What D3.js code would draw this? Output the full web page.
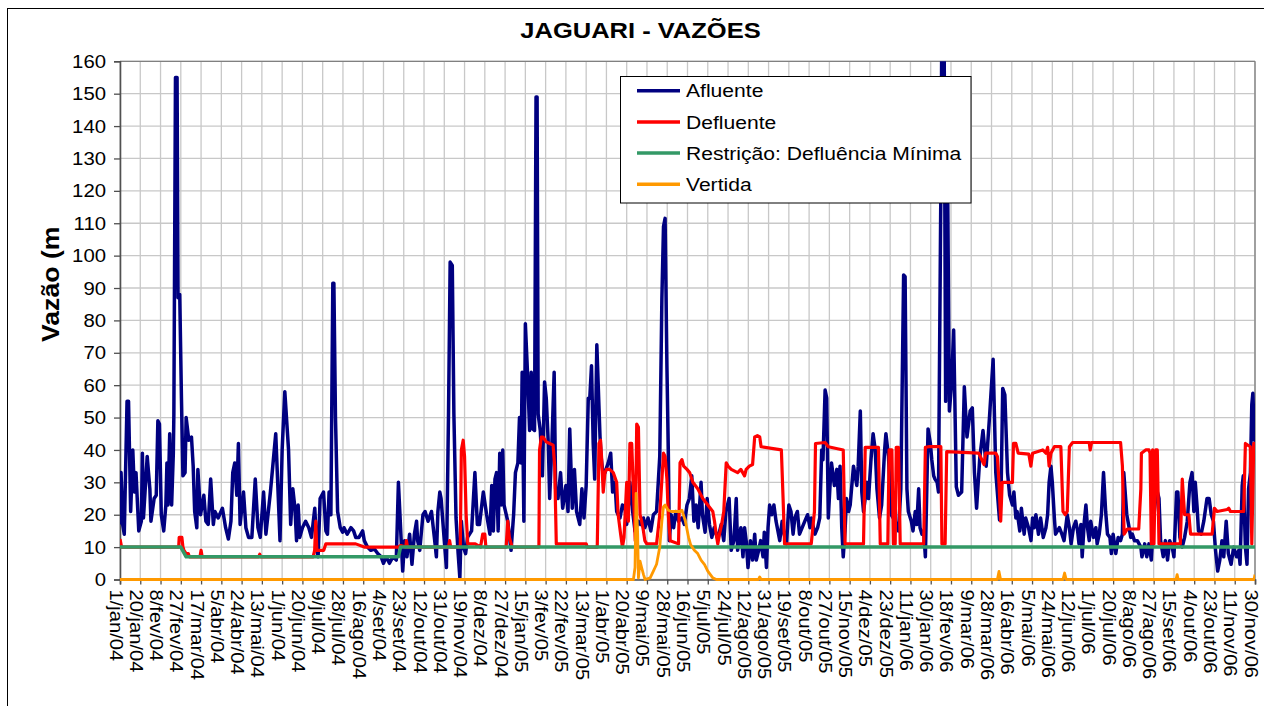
<!DOCTYPE html>
<html>
<head>
<meta charset="UTF-8">
<title>JAGUARI - VAZÕES</title>
<style>
  body { margin: 0; background: #ffffff; }
  svg { display: block; font-family: Arial, "Liberation Sans", sans-serif; }
</style>
</head>
<body>
<svg></svg>
<script src="https://d3js.org/d3.v7.min.js"></script>
<script>

// [dia contado a partir de 1/jan/04, vazão]
let afluente = [
  [0,17],[1,33],[2.5,17],[4,14],[6.6,55],[8,55],[10,21],[12,40],[13.5,27],[15,33],[17.6,15],[20,18],[21,39],[22,19],
  [25.5,38],[28,28],[29,18],[32,25],[34,26],[35.5,49],[37,48],[38.7,20],[41,15],[43,23],[44,36],[45,23],[46.6,45],
  [48.4,23],[50,39],[50.5,51],[52,155],[53.5,155],[54.4,87],[56,88],[57.6,56],[59,32],[61,33],[62,50],[64.5,43],
  [67,44],[68.6,35],[70,21],[72,16],[73,34],[75.5,20],[78.6,26],[80.5,18],[82.7,17],[85,31],[87.5,17],[89,21],[92,19],
  [96,22],[99,16],[101.6,12.5],[104,18],[105.7,33],[107.6,36],[109.5,26],[111,42],[112.6,17],[115.8,27],[118,16],
  [120.5,13],[123.6,13],[126.8,31],[129.3,16],[131.5,13],[134.6,27],[136.8,14],[141,27],[146,45],[150,12],[152,40],
  [154.5,58],[158,40],[160,17],[162,28],[164,22],[165.5,12],[167,23],[168.5,13],[171,16],[174,18],[177,16],[179.5,13],
  [182.6,22],[184.5,9],[185.7,7],[187.6,25],[190.8,27],[193,15],[194.5,14],[196,27],[197.7,20],[199.5,91.5],[200.5,91.5],
  [202,50],[204,21],[206.5,16],[208.7,14.6],[210,16],[213,14],[216.5,16],[219,15],[221,13],[224,13],[227.5,15],[229,12],
  [232,10],[235,9],[238.5,9.4],[241.6,8],[244.8,7],[247,5],[249.5,7],[252.6,5],[255.8,7],[259,6],[261,30],[263.6,12],
  [265,2.6],[266.8,12],[269,7],[271.5,14],[273.7,4.7],[276,14],[278,18],[279,12],[281,9],[284,20],[286,21],[288.8,18],
  [292,21],[295,12],[296.6,7],[298,21],[299.8,27],[301,25],[304,12],[306,3.7],[308,52],[309.5,98],[311.5,97],[313,51],
  [315,19],[317,8],[318.6,0.5],[320,18],[322,10],[324,8],[325.8,13],[329.6,15],[332.7,33],[335,17],[337,17],[340.6,27],
  [343.7,20],[346.8,14],[348.5,29],[350,15],[351.5,31],[353,33],[354.5,15],[356,39],[357.3,23],[358.8,40],[360,23],
  [363.5,18],[366.6,9],[369,20],[370.7,33],[373,36],[374.5,50],[376,36],[377,64],[378.6,18],[380,79],[382,64],[384,46],
  [385.5,64],[387,46.5],[388.6,46],[390,149],[391,149],[392,51],[394,46],[396,32],[398,61],[399.6,56],[401.5,42],
  [402.8,25],[405,43],[407,64],[408.4,28],[410.6,25],[413,33],[415,22],[418,29],[420,21],[421.6,46.5],[424,22],[426,34],
  [428,21],[431,17],[433,28],[435,19],[437,29],[439,56],[440.4,56],[442,66],[443.6,42],[445,31],[447,72.5],[450,44],
  [451,38],[453,32],[454.6,33],[457.7,36],[460,39],[461.8,27],[464,30],[465.6,21],[467,20],[468.7,19],[471,23],
  [473.4,22],[475,17],[476.6,23],[478,30],[480.6,21],[482.8,15],[486,18],[488,17],[490.7,19],[492,16],[495,19],
  [497.6,15],[500,20],[503,21],[506,38],[508,87],[509.5,109],[511,111.5],[512.7,66],[514,40],[515,12],[516.7,20],
  [519,16],[521,21],[523.6,18],[526.8,19],[529,17],[531.5,23],[533.7,25],[536,32],[538,18],[540,23],[542,16],
  [544.7,30],[546,20],[548.5,14.6],[550.4,25],[552.6,17],[554.8,13],[557,16],[560.4,12.5],[563.6,17],[566,12],[568,21],
  [571,25],[573,9],[575.5,12],[577.7,25],[579,9],[582,16],[584,7],[585.5,16],[587,12],[588.7,3.7],[591,12],[593,6],
  [595,14],[596.5,6],[598.7,9],[600.6,12],[602.8,7],[604,14.6],[606,3.7],[607.5,16],[609,23],[611,20],[613,23],[615,18],
  [618.5,12],[620.7,18],[622.6,14],[624.8,11],[627,23],[629,21],[631,14],[632.6,19],[635,21],[637,14],[639.5,16],
  [642,18],[644.6,20],[646.8,16],[648,19],[651.5,14],[654,16],[656,19],[657.8,40],[659,37],[661,58.5],[662.5,56],
  [664,19],[665.6,29],[667,36],[669.7,29],[672,34],[673.5,25],[675,35],[676.6,16],[678,7],[679.7,15],[681,25],[683,21],
  [684.5,23],[687.6,35],[690.7,29],[692,35],[694,52],[695.4,27],[697,21],[698.6,25],[700,30],[701.7,25],[704,37],
  [706,45],[708,40],[709.6,28],[712,19],[714,23],[716.8,40],[718,45],[720.4,38],[723,20],[726.7,18],[729.8,15],[732,28],
  [734.6,94],[736,93.5],[737.7,28],[739,21],[741.8,18],[743.4,15],[745.5,21],[747,17],[748.7,28],[750,16],[751.8,14],
  [753.4,15],[755,7],[757.5,46.5],[759.7,42],[761,37],[762.8,32],[764,31],[766,30],[767.3,27],[769.5,120],[770.5,175],
  [772.5,175],[774,55],[776,116],[777.5,52],[779.5,60],[781.5,77],[784,28.6],[786,26],[789,27],[791.5,59.5],[794,44],
  [797,52],[799,53],[801,33],[803,22],[806,37.6],[809,46],[812,35],[815,49.6],[818.5,68],[821,33],[824.5,18.4],[826,28],
  [827.5,59],[829.5,57],[832,33],[834,26],[836.6,23],[838,27],[839.8,19],[841,21],[843.5,15],[845,22],
  [847.6,14],[849,19],[851.7,16],[854,12],[855.5,19],[857,16],[858.6,20],[861,14],[863,19],[865.5,13],[868,16],
  [869.6,20],[871,30],[872.7,35],[874,30],[875.9,19],[877,14],[880.6,16],[883,14],[885,12],[886.9,17],[888,20],[890,16],
  [891.6,11],[893.8,16],[896,18],[897.7,15],[899,11],[900.8,17],[902,7],[904,18],[905.5,23],[907,16],[908.6,12],[910,18],
  [912.6,13],[914.8,16],[916,11],[918,14],[920,20],[922,33],[924,21],[925.7,14],[928,13],[929.4,8],[931,14],[933.5,8],
  [935.7,13],[938,12],[939.7,14],[941,33],[943.8,20],[946,16],[947.5,13],[949,14],[951,12],[953.7,12],[957,10],[958,7],
  [960.6,11],[962.5,7],[964.6,11],[966.8,6],[969,19],[971.8,28],[974,25],[975.5,12],[978,7],[980,12],[982,6],[984,12],
  [986.4,10],[988,7],[990.5,27],[991.7,27],[993.6,13],[995.8,10],[998,13],[1000.5,18],[1003,30],[1005,33],[1006.7,21],
  [1008,30],[1009.8,22],[1011,15],[1013.5,14],[1016,18],[1019,25],[1021,25],[1023,20],[1025,18],[1027,9],[1029,2.6],
  [1031,6],[1033,12],[1034.7,7],[1037,18],[1039,8],[1041.6,4.7],[1044,10],[1046.7,7],[1048.8,9],[1050,4.7],[1052,29],
  [1053,32],[1055,10],[1056.5,4.7],[1058,28],[1059.7,33],[1061,54],[1062,57.5],[1063.5,43],[1064,44]
];

let defluente = [
  [0,12.5],[1.5,10],[55,10],[55.5,13],[58,13],[59,10],[60,9],[62,8],[64,8],[65,7],[75,7],[76,9],[77,7],[130,7],
  [131,7.8],[132,7],[181,7],[182.5,9],[183.5,18],[184.5,9],[191,9],[193,11],[221,11],[229,10],[261,10],[263,10.5],
  [268,10],[268.5,12],[269.5,10],[308,10],[309,12],[310,10],[319,10],[320,40],[321.7,43],[323,38],[324.5,20],[326,11],
  [333,11],[338,10],[340,14],[342,14],[343,10],[362,10],[363.5,18],[365,13],[367.6,10],[392.7,10],[393.3,40],[395,44],
  [396.5,44],[399.6,42.5],[402.8,42],[406,41.5],[407.5,35],[409,11],[437,11],[438,10],[447.4,10],[449,42],[450.5,43],
  [451.4,38],[453,27],[454.6,33],[456,34],[459,34],[462.4,33],[465.6,30],[467,20],[469.3,14],[471,10],[472.5,13],
  [475,30],[476.6,18],[478,42],[479.7,42],[481,30],[483,12],[484.4,48],[486,47],[487.5,20],[489,18],[490.7,15],[492,12],
  [493.8,11],[497,11],[503,11],[506,20],[509.5,39],[511,38],[512.7,31],[514,20],[515.8,12],[523.6,11],[525,36],
  [526.8,37],[528.4,35],[531.5,34],[534,33],[537,30],[541.6,28],[546.3,25],[551,23],[555.7,21],[557.3,18],[558.9,14],
  [560.4,11],[562,14],[564,17],[566,21],[568.3,36],[570,35],[573,34],[579,33],[582,34],[585.5,32],[587,34],[590,35],
  [593,35.5],[595,44],[597.5,44.4],[599.7,44],[601,41],[620,40],[621.6,25],[623,11],[648,11],[651,21],[652,42],
  [661,42.3],[664,41],[678,40],[679.7,11],[697,11],[698.6,40.8],[711,40.8],[712.7,11],[719.8,11],[721,40],[723.6,40],
  [725,11],[726.7,11],[727.7,40.8],[729.8,40.8],[731.4,11],[753.4,11],[755,40.8],[758,41],[766,41],[769.5,41],
  [770.5,11],[773.5,11],[775,39.5],[805,39],[810,35.5],[811.5,39],[821,39],[822.5,38],[824,30],[825.6,18],[827,30],
  [836.6,30],[837.6,42],[839.8,42],[842,39],[852,38.7],[853.9,35],[855.5,39],[865,40],[868,39],[869.6,40.8],[871,35],
  [872.7,39],[875.9,41],[882,41],[884,21],[886,20],[888,21],[890,41],[893,42.3],[908.6,42.3],[909.5,40],[910.8,42.3],
  [938,42.3],[939.7,35],[941.3,14],[944.4,15.6],[955,15.6],[957,28],[957.5,39],[961.5,40],[964.6,40],[965.6,39],
  [966.8,11],[968,40],[969.3,11],[970.9,40],[972.4,40],[974,11],[994,11],[995.8,31],[998,20],[1002,20],[1003.6,14],
  [1023.8,14],[1026,22],[1028.5,21],[1038,21.6],[1039.4,22],[1041,21],[1053.4,21],[1055,42],[1059.6,41],[1061,11],
  [1062.8,42],[1064,42]
];

let restricao = [[0,10],[57,10],[62,7],[261,7],[263,10],[1064,10]];

let vertida = [
  [0,0],[481.3,0],[482.8,3.7],[483.8,26.6],[485.3,14],[486,0.5],[487.5,5.7],[489,3.7],[490.7,1.6],[492.2,0],[497,0.5],
  [500,2.6],[503,4.7],[506,10],[508,18],[509.5,22.5],[511,23],[512.7,22],[514,21.4],[517,21],[525,21],[526.8,21.4],
  [530,18],[533,13],[535,10.7],[538.4,9],[541.6,8],[544.7,6],[548,4.6],[551,2.6],[555.7,0.5],[559,0],[598.5,0],
  [599.7,0.8],[601,0],[822.5,0],[824,2.5],[825.5,0],[884,0],[885.5,2],[887,0],[990,0],[991,1.5],[992,0],[1063,0],
  [1064,1.5]
];

// um rótulo a cada 19 dias
let rotulosX = [
  "1/jan/04","20/jan/04","8/fev/04","27/fev/04","17/mar/04","5/abr/04","24/abr/04","13/mai/04","1/jun/04","20/jun/04",
  "9/jul/04","28/jul/04","16/ago/04","4/set/04","23/set/04","12/out/04","31/out/04","19/nov/04","8/dez/04","27/dez/04",
  "15/jan/05","3/fev/05","22/fev/05","13/mar/05","1/abr/05","20/abr/05","9/mai/05","28/mai/05","16/jun/05","5/jul/05",
  "24/jul/05","12/ago/05","31/ago/05","19/set/05","8/out/05","27/out/05","15/nov/05","4/dez/05","23/dez/05","11/jan/06",
  "30/jan/06","18/fev/06","9/mar/06","28/mar/06","16/abr/06","5/mai/06","24/mai/06","12/jun/06","1/jul/06","20/jul/06",
  "8/ago/06","27/ago/06","15/set/06","4/out/06","23/out/06","11/nov/06","30/nov/06"
];
let passoDias = 19;
let ticksY = d3.range(0, 161, 10);

let series = [
  {nome: "Afluente", dados: afluente, cor: "#000080", largura: 3.5},
  {nome: "Defluente", dados: defluente, cor: "#ff0000", largura: 3.2},
  {nome: "Restrição: Defluência Mínima", dados: restricao, cor: "#339966", largura: 3.5},
  {nome: "Vertida", dados: vertida, cor: "#ff9900", largura: 2.8}
];

let width = 1264, height = 706;
let plotL = 120, plotR = 1255, plotT = 61.3, plotB = 579.5;

let svg = d3.select("svg")
    .attr("width", width)
    .attr("height", height);

// moldura do gráfico
svg.append("rect")
    .attr("x", 7.5).attr("y", 8.5)
    .attr("width", 1270).attr("height", 720)
    .attr("fill", "white").attr("stroke", "black").attr("stroke-width", 1);

let x = d3.scaleLinear().domain([0, 1064]).range([plotL, plotR]);
let y = d3.scaleLinear().domain([0, 160]).range([plotB, plotT]);

let diasTick = rotulosX.map((r, i) => i * passoDias);

// grade
let grade = svg.append("g");
grade.selectAll(".gx").data(diasTick).enter().append("line")
    .attr("x1", d => x(d)).attr("x2", d => x(d))
    .attr("y1", plotT).attr("y2", plotB)
    .attr("stroke", "#c8c8c8").attr("stroke-width", 1.3);
grade.selectAll(".gy").data(ticksY).enter().append("line")
    .attr("x1", plotL).attr("x2", plotR)
    .attr("y1", d => y(d)).attr("y2", d => y(d))
    .attr("stroke", "#c8c8c8").attr("stroke-width", 1.3);

// borda da área de plotagem
svg.append("line").attr("x1", plotL).attr("x2", plotR).attr("y1", plotT).attr("y2", plotT)
    .attr("stroke", "#808080").attr("stroke-width", 1.3);
svg.append("line").attr("x1", plotR).attr("x2", plotR).attr("y1", plotT).attr("y2", plotB)
    .attr("stroke", "#808080").attr("stroke-width", 1.3);

// eixo Y
let eixoY = svg.append("g").attr("transform", "translate(" + plotL + ",0)")
    .call(d3.axisLeft(y).tickValues(ticksY).tickSize(6).tickPadding(0).tickFormat(d3.format("d")));
eixoY.select(".domain").attr("stroke", "#505050").attr("stroke-width", 1.6);
eixoY.selectAll(".tick line").attr("stroke", "#505050").attr("stroke-width", 1.3);
eixoY.selectAll(".tick text")
    .attr("x", 0).attr("dy", null)
    .attr("dominant-baseline", "central")
    .attr("text-anchor", "end")
    .attr("transform", "translate(-14,0) scale(1.13,1)")
    .style("font-size", "18px").style("font-family", "Arial, 'Liberation Sans', sans-serif")
    .attr("fill", "black");

// eixo X
let eixoX = svg.append("g").attr("transform", "translate(0," + plotB + ")")
    .call(d3.axisBottom(x).tickValues(diasTick).tickSize(5).tickFormat((d, i) => rotulosX[i]));
eixoX.select(".domain").attr("stroke", "#505050").attr("stroke-width", 1.6);
eixoX.selectAll(".tick line").attr("stroke", "#505050").attr("stroke-width", 1.3);
eixoX.selectAll(".tick text")
    .attr("x", 0).attr("y", 0).attr("dy", null)
    .attr("text-anchor", "start")
    .attr("transform", "translate(-11,10) rotate(90) scale(1.12,1)")
    .style("font-size", "18px").style("font-family", "Arial, 'Liberation Sans', sans-serif")
    .attr("fill", "black");

// linhas
svg.append("clipPath").attr("id", "clip")
  .append("rect").attr("x", plotL).attr("y", plotT).attr("width", plotR - plotL).attr("height", plotB - plotT + 3);

let linha = d3.line().x(d => x(d[0])).y(d => y(d[1]));

svg.append("g").attr("clip-path", "url(#clip)")
  .selectAll("path").data(series).enter().append("path")
    .attr("d", d => linha(d.dados))
    .attr("fill", "none")
    .attr("stroke", d => d.cor)
    .attr("stroke-width", d => d.largura)
    .attr("stroke-linejoin", "round");

// título
svg.append("text")
    .attr("transform", "translate(640.5,38) scale(1.16,1)")
    .attr("text-anchor", "middle")
    .style("font-size", "22px").style("font-weight", "bold")
    .text("JAGUARI - VAZÕES");

// título do eixo Y (cortado como no original)
svg.append("text")
    .attr("transform", "translate(59,342) rotate(-90) scale(1.11,1)")
    .attr("text-anchor", "start")
    .style("font-size", "24px").style("font-weight", "bold")
    .text("Vazão (m");

// legenda
let legenda = svg.append("g");
legenda.append("rect")
    .attr("x", 620.5).attr("y", 76.5).attr("width", 350.5).attr("height", 126.5)
    .attr("fill", "white").attr("stroke", "black").attr("stroke-width", 1);
let itens = legenda.selectAll(".item").data(series).enter().append("g")
    .attr("transform", (d, i) => "translate(0," + (90.7 + i * 31.2) + ")");
itens.append("line")
    .attr("x1", 637).attr("x2", 680).attr("y1", 0).attr("y2", 0)
    .attr("stroke", d => d.cor).attr("stroke-width", 3.5);
itens.append("text")
    .attr("transform", "translate(686,6.6) scale(1.14,1)")
    .style("font-size", "18.5px")
    .text(d => d.nome);

</script>
</body>
</html>
